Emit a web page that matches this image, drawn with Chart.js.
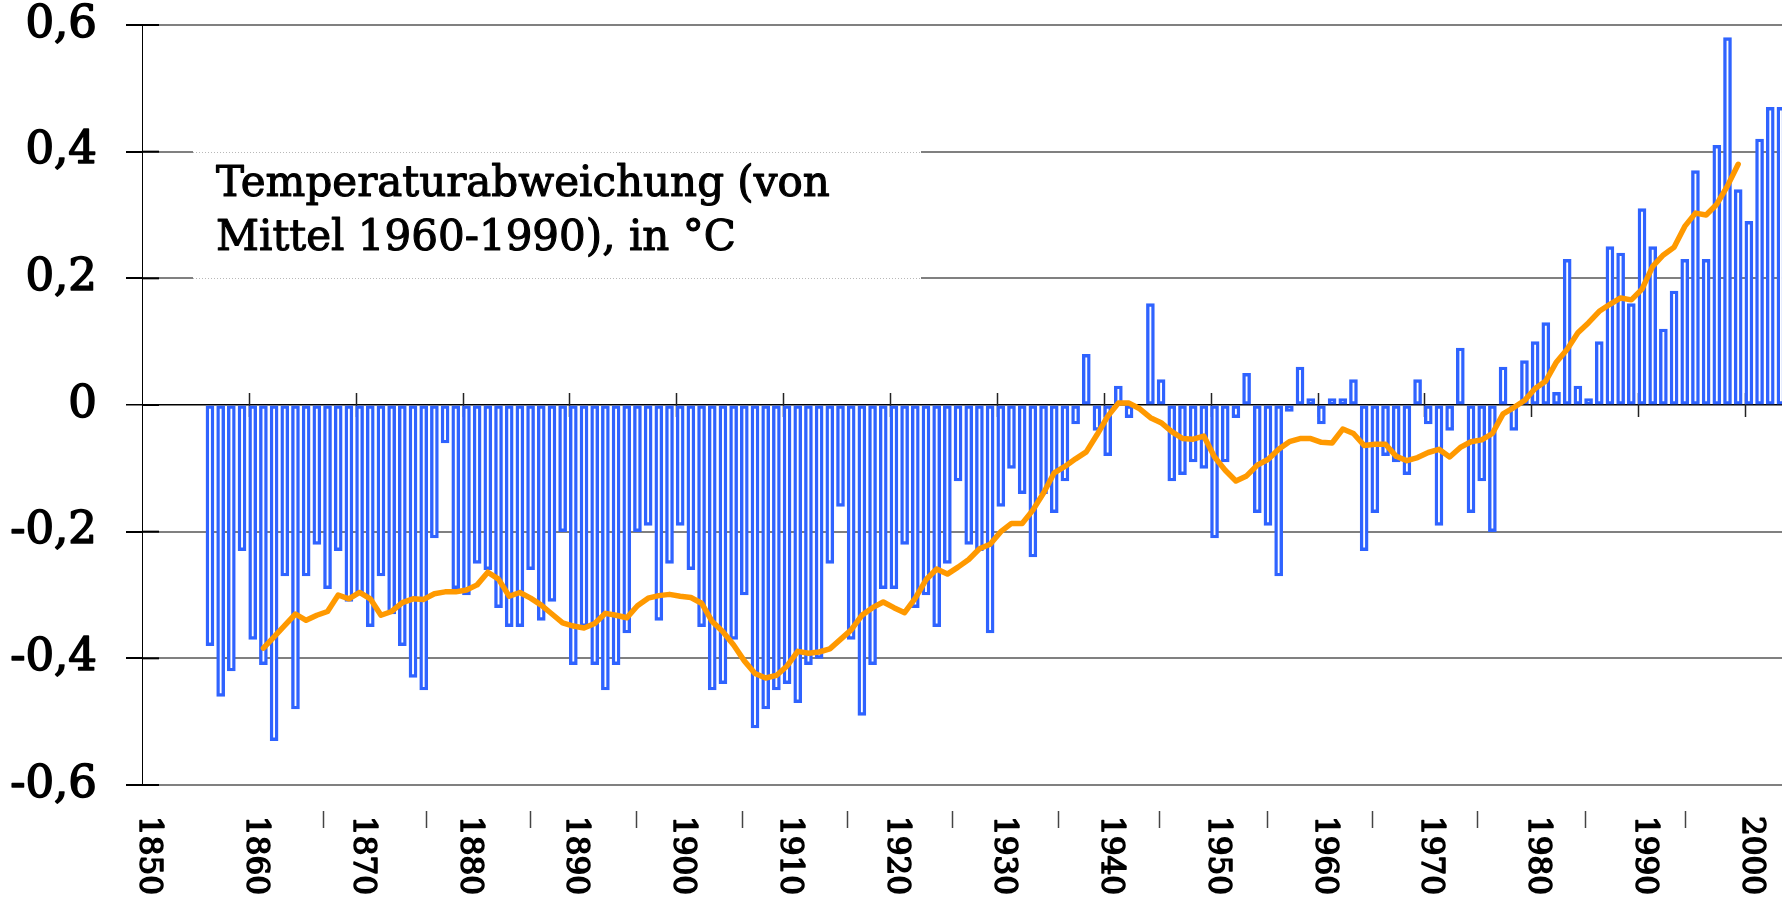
<!DOCTYPE html>
<html>
<head>
<meta charset="utf-8">
<title>Temperaturabweichung</title>
<script src="https://cdn.jsdelivr.net/npm/chart.js@4.4.1/dist/chart.umd.min.js"></script>
<style>
  html, body { margin: 0; padding: 0; background: #fff; }
  #wrap { width: 1782px; height: 901px; }
</style>
</head>
<body>
<div id="wrap"><canvas id="chart" width="1782" height="901"></canvas></div>
<script>
/* Jahresmittel der globalen Temperaturabweichung, 1856-2003 */
const firstYear = 1856;
const anomalies = [
  -0.38, -0.46, -0.42, -0.23, -0.37, -0.41, -0.53, -0.27, -0.48, -0.27,
  -0.22, -0.29, -0.23, -0.31, -0.30, -0.35, -0.27, -0.33, -0.38, -0.43,
  -0.45, -0.21, -0.06, -0.29, -0.30, -0.25, -0.26, -0.32, -0.35, -0.35,
  -0.26, -0.34, -0.31, -0.20, -0.41, -0.35, -0.41, -0.45, -0.41, -0.36,
  -0.20, -0.19, -0.34, -0.25, -0.19, -0.26, -0.35, -0.45, -0.44, -0.37,
  -0.30, -0.51, -0.48, -0.45, -0.44, -0.47, -0.41, -0.40, -0.25, -0.16,
  -0.37, -0.49, -0.41, -0.29, -0.29, -0.22, -0.32, -0.30, -0.35, -0.25,
  -0.12, -0.22, -0.23, -0.36, -0.16, -0.10, -0.14, -0.24, -0.14, -0.17,
  -0.12, -0.03,  0.08, -0.04, -0.08,  0.03, -0.02,  0.00,  0.16,  0.04,
  -0.12, -0.11, -0.09, -0.10, -0.21, -0.09, -0.02,  0.05, -0.17, -0.19,
  -0.27, -0.01,  0.06,  0.01, -0.03,  0.01,  0.01,  0.04, -0.23, -0.17,
  -0.08, -0.09, -0.11,  0.04, -0.03, -0.19, -0.04,  0.09, -0.17, -0.12,
  -0.20,  0.06, -0.04,  0.07,  0.10,  0.13,  0.02,  0.23,  0.03,  0.01,
   0.10,  0.25,  0.24,  0.16,  0.31,  0.25,  0.12,  0.18,  0.23,  0.37,
   0.23,  0.41,  0.58,  0.34,  0.29,  0.42,  0.47,  0.47
];

/* geglättete Kurve (orange), 1861-1999 */
const smoothFirstYear = 1861;
const smoothed = [
  -0.384, -0.366, -0.348, -0.330, -0.340, -0.332, -0.326, -0.300, -0.306, -0.296,
  -0.306, -0.332, -0.326, -0.312, -0.306, -0.307, -0.298, -0.295, -0.295, -0.292,
  -0.284, -0.264, -0.275, -0.302, -0.296, -0.305, -0.316, -0.330, -0.344, -0.349,
  -0.352, -0.345, -0.329, -0.332, -0.336, -0.317, -0.305, -0.301, -0.299, -0.302,
  -0.304, -0.313, -0.342, -0.358, -0.379, -0.404, -0.424, -0.431, -0.427, -0.412,
  -0.389, -0.392, -0.390, -0.385, -0.370, -0.355, -0.332, -0.320, -0.311, -0.320,
  -0.328, -0.305, -0.276, -0.259, -0.267, -0.256, -0.244, -0.227, -0.220, -0.200,
  -0.187, -0.187, -0.166, -0.139, -0.107, -0.097, -0.085, -0.074, -0.047, -0.018,
   0.003,  0.003, -0.006, -0.020, -0.028, -0.042, -0.053, -0.054, -0.049, -0.082,
  -0.103, -0.120, -0.112, -0.095, -0.086, -0.070, -0.058, -0.053, -0.053, -0.059,
  -0.060, -0.038, -0.045, -0.064, -0.062, -0.062, -0.081, -0.088, -0.083, -0.075,
  -0.070, -0.082, -0.067, -0.058, -0.055, -0.045, -0.014, -0.004,  0.007,  0.026,
   0.038,  0.068,  0.088,  0.114,  0.130,  0.148,  0.159,  0.169,  0.166,  0.183,
   0.219,  0.237,  0.249,  0.282,  0.303,  0.300,  0.317,  0.346,  0.380
];

const decadeTicks  = [1850, 1860, 1870, 1880, 1890, 1900, 1910, 1920, 1930, 1940, 1950, 1960, 1970, 1980, 1990, 2000];
const decadeLabels = ['1850', '1860', '1870', '1880', '1890', '1900', '1910', '1920', '1930', '1940', '1950', '1960', '1970', '1980', '1990', '2000'];
const dashYears    = [1866.9, 1876.6, 1886.3, 1896.2, 1906.1, 1916.0, 1925.8, 1935.7, 1945.2, 1955.3, 1965.1, 1974.9, 1985.0, 1994.4];
const yTicks  = [-0.6, -0.4, -0.2, 0, 0.2, 0.4, 0.6];
const yLabels = ['-0,6', '-0,4', '-0,2', '0', '0,2', '0,4', '0,6'];
const titleLines = ['Temperaturabweichung (von', 'Mittel 1960-1990), in °C'];

const SERIF = '"DejaVu Serif", serif';

const barPoints = anomalies.map((v, i) => ({ x: firstYear + i, y: v }));
const linePoints = smoothed.map((v, i) => ({ x: smoothFirstYear + i, y: v }));

// etwas kräftigere Schrift: Füllung plus dünne Kontur
function heavyText(ctx, text, x, y, w) {
  ctx.fillText(text, x, y);
  ctx.lineWidth = w;
  ctx.lineJoin = 'round';
  ctx.strokeText(text, x, y);
}

// Titelkasten, Jahresstriche an der Nulllinie, Achsenbeschriftung
const decor = {
  id: 'decor',
  beforeDatasetsDraw(chart) {
    const { ctx } = chart;
    const xs = chart.scales.x, ys = chart.scales.y;
    const y04 = ys.getPixelForValue(0.4), y02 = ys.getPixelForValue(0.2);

    ctx.save();
    ctx.fillStyle = '#fff';
    ctx.fillRect(193, y04 - 1, 728, y02 - y04 + 2);
    ctx.strokeStyle = '#b8b8b8';
    ctx.lineWidth = 1;
    ctx.setLineDash([1, 2]);
    [y04, y02].forEach(y => {
      ctx.beginPath();
      ctx.moveTo(193, Math.round(y) + 0.5);
      ctx.lineTo(921, Math.round(y) + 0.5);
      ctx.stroke();
    });
    ctx.setLineDash([]);

    // Achsenstriche reichen etwas ins Diagramm hinein
    ctx.strokeStyle = '#000';
    ctx.lineWidth = 2;
    yTicks.forEach(v => {
      const y = ys.getPixelForValue(v);
      ctx.beginPath();
      ctx.moveTo(142, y);
      ctx.lineTo(159, y);
      ctx.stroke();
    });

    ctx.fillStyle = '#000';
    ctx.font = '42px ' + SERIF;
    ctx.textBaseline = 'alphabetic';
    heavyText(ctx, titleLines[0], 216, 196, 1.1);
    heavyText(ctx, titleLines[1], 216, 250, 1.1);

    // Striche an der Nulllinie
    const y0 = ys.getPixelForValue(0);
    ctx.strokeStyle = '#222';
    ctx.lineWidth = 1.5;
    decadeTicks.forEach(d => {
      if (d === 1850) return;
      const x = Math.round(xs.getPixelForValue(d)) + 0.5;
      ctx.beginPath();
      ctx.moveTo(x, y0 - 12);
      ctx.lineTo(x, y0 + 12);
      ctx.stroke();
    });
    ctx.restore();
  },
  afterDraw(chart) {
    const { ctx } = chart;
    const xs = chart.scales.x, ys = chart.scales.y;
    ctx.save();
    ctx.fillStyle = '#000';
    ctx.strokeStyle = '#000';

    // y-Beschriftung
    ctx.font = '45px ' + SERIF;
    ctx.textAlign = 'right';
    ctx.textBaseline = 'middle';
    yTicks.forEach((v, i) => heavyText(ctx, yLabels[i], 97, ys.getPixelForValue(v), 1.6));

    // gedrehte Jahreszahlen
    ctx.font = '31px ' + SERIF;
    ctx.textAlign = 'left';
    decadeTicks.forEach((d, i) => {
      const x = xs.getPixelForValue(d) + 6;
      ctx.save();
      ctx.translate(x, 816);
      ctx.rotate(Math.PI / 2);
      heavyText(ctx, decadeLabels[i], 0, 0, 1.5);
      ctx.restore();
    });

    ctx.strokeStyle = '#444';
    ctx.lineWidth = 1.5;
    dashYears.forEach(d => {
      const x = Math.round(xs.getPixelForValue(d)) + 0.5;
      ctx.beginPath();
      ctx.moveTo(x, 811);
      ctx.lineTo(x, 828);
      ctx.stroke();
    });
    ctx.restore();
  }
};

new Chart(document.getElementById('chart'), {
  data: {
    datasets: [
      {
        type: 'line',
        data: linePoints,
        xAxisID: 'xb',
        borderColor: '#ff9900',
        borderWidth: 5.5,
        pointRadius: 0,
        tension: 0,
        borderJoinStyle: 'round',
        borderCapStyle: 'round',
        order: 0
      },
      {
        type: 'bar',
        data: barPoints,
        xAxisID: 'xb',
        backgroundColor: '#fff',
        borderColor: '#2f63ff',
        borderWidth: 3.4,
        borderSkipped: false,
        barThickness: 8.0,
        order: 1
      }
    ]
  },
  plugins: [decor],
  options: {
    responsive: false,
    animation: false,
    devicePixelRatio: 1,
    layout: { padding: { top: 25, bottom: 116, left: 0, right: 0 } },
    plugins: { legend: { display: false }, tooltip: { enabled: false } },
    scales: {
      x:  { type: 'linear', display: false, min: 1850, max: 2003.46 },
      xb: { type: 'linear', display: false, min: 1849.64, max: 2003.10, offset: false },
      y: {
        min: -0.6, max: 0.6,
        afterBuildTicks: s => { s.ticks = yTicks.map(v => ({ value: v })); },
        afterFit: s => { s.width = 142; s.paddingTop = 0; s.paddingBottom = 0; },
        ticks: { display: false },
        grid: {
          color: c => (c.tick && c.tick.value === 0 ? '#000' : '#808080'),
          lineWidth: c => (c.tick && c.tick.value === 0 ? 1.5 : 2),
          tickColor: '#000',
          tickLength: 16
        },
        border: { display: true, color: '#000', width: 1 }
      }
    }
  }
});
</script>
</body>
</html>
